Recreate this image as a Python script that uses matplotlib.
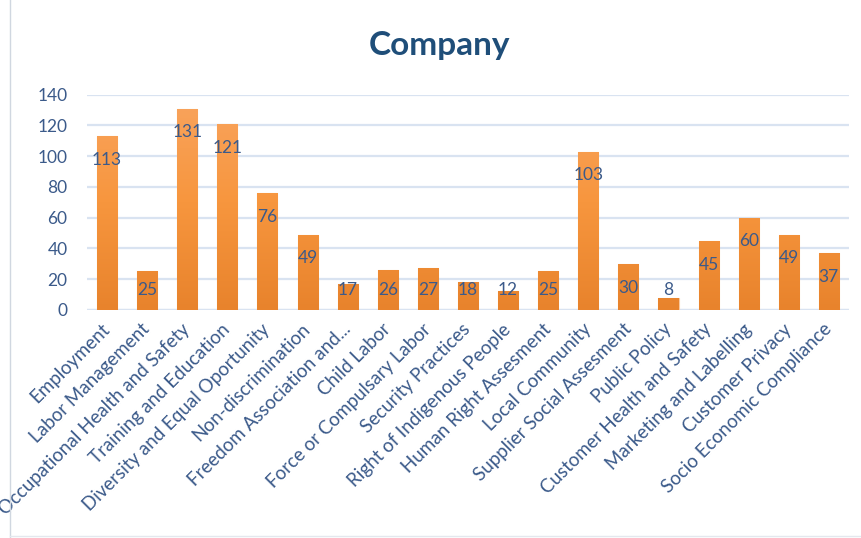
import numpy as np
import matplotlib
matplotlib.use("Agg")
import matplotlib.pyplot as plt
from matplotlib.colors import LinearSegmentedColormap

plt.rcParams['font.family'] = ['Lato', 'DejaVu Sans']

# data
categories = [
    "Employment", "Labor Management", "Occupational Health and Safety",
    "Training and Education", "Diversity and Equal Oportunity",
    "Non-discrimination", "Freedom Association and...", "Child Labor",
    "Force or Compulsary Labor", "Security Practices",
    "Right of Indigenous People", "Human Right Assesment", "Local Community",
    "Supplier Social Assesment", "Public Policy", "Customer Health and Safety",
    "Marketing and Labelling", "Customer Privacy", "Socio Economic Compliance",
]
values = [113, 25, 131, 121, 76, 49, 17, 26, 27, 18, 12, 25, 103, 30, 8, 45, 60, 49, 37]
y_ticks = [0, 20, 40, 60, 80, 100, 120, 140]

text_color = "#3B5A8A"
grid_color = "#D9E3F1"
bar_cmap = LinearSegmentedColormap.from_list("bar", ["#E8832C", "#F7963E", "#F9A45E"])

fig = plt.figure(figsize=(8.61, 5.38), dpi=100, facecolor="white")
ax = fig.add_axes([0.101, 0.424, 0.885, 0.4])

x = np.arange(len(categories))
bars = ax.bar(x, values, width=0.5, color="#F7963E", edgecolor="#F9C9A0",
              linewidth=0.8, zorder=2)

# vertical gradient on each bar
grad = np.linspace(0, 1, 256).reshape(-1, 1)
for b in bars:
    x0, w = b.get_x(), b.get_width()
    im = ax.imshow(grad, cmap=bar_cmap, aspect="auto", origin="lower",
                   extent=(x0, x0 + w, 0, 140), zorder=2.5)
    im.set_clip_path(b)

for xi, v in zip(x, values):
    ax.text(xi, max(v - 15.5, 13), str(v), ha="center", va="center",
            fontsize=12.5, color=text_color, zorder=4)

ax.set_xlim(-0.5, len(categories) - 0.5)
ax.set_ylim(0, 140)
ax.set_yticks(y_ticks)
ax.yaxis.grid(True, color=grid_color, linewidth=1.6, zorder=0)
ax.set_axisbelow(True)
for s in ax.spines.values():
    s.set_visible(False)
ax.axhline(0, color=grid_color, linewidth=1.6, zorder=1)

ax.set_xticks(x)
ax.set_xticklabels(categories, rotation=45, ha="right", va="center",
                   rotation_mode="anchor", fontsize=13.5, color=text_color)
ax.tick_params(axis="x", length=0, pad=12)
ax.tick_params(axis="y", length=0, pad=14, labelsize=12.5, labelcolor=text_color)

fig.text(0.511, 0.916, "Company", ha="center", va="center", fontsize=24,
         fontweight="bold", color="#1F4E79")

# chart frame (left and bottom edge)
fig.add_artist(plt.Line2D([0.012, 0.012], [0.0, 1.0], color="#D0D7E0", linewidth=1.0))
fig.add_artist(plt.Line2D([0.012, 1.0], [0.003, 0.003], color="#E4E8EE", linewidth=1.0))

fig.savefig("out.png", dpi=100, facecolor="white")
